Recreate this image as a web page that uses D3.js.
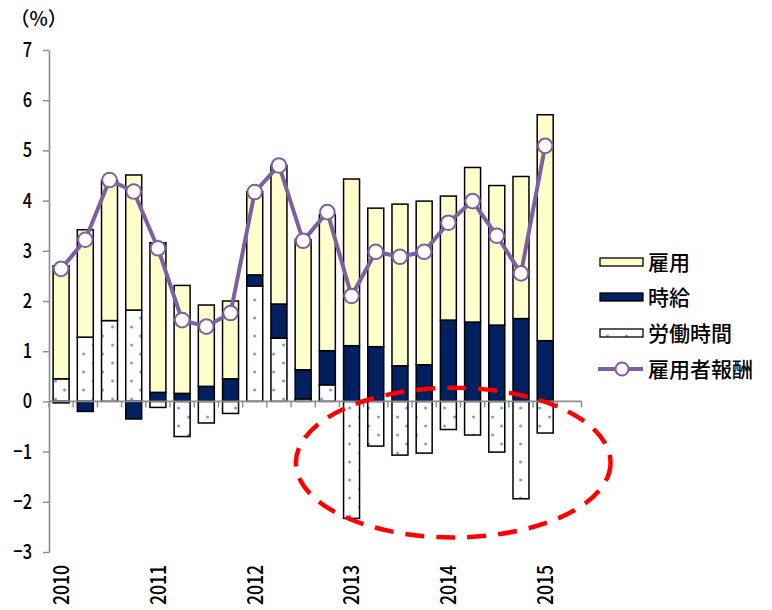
<!DOCTYPE html>
<html lang="ja">
<head>
<meta charset="utf-8">
<script src="https://cdn.jsdelivr.net/npm/d3@7"></script>
<style>
  html, body { margin: 0; padding: 0; background: #fff; }
  svg { display: block; }
  .num { font-family: "Noto Sans CJK JP", "Liberation Sans", sans-serif; font-weight: 500; fill: #000; }
  .jp { font-family: "Noto Sans CJK JP", "Noto Sans CJK SC", sans-serif; font-weight: 500; fill: #000; }
</style>
</head>
<body>
<svg id="chart" width="772" height="610"></svg>
<script>
// Quarters 2010Q1 .. 2015Q2 (the last slot is left empty)
const quarters = [
  "2010Q1","2010Q2","2010Q3","2010Q4",
  "2011Q1","2011Q2","2011Q3","2011Q4",
  "2012Q1","2012Q2","2012Q3","2012Q4",
  "2013Q1","2013Q2","2013Q3","2013Q4",
  "2014Q1","2014Q2","2014Q3","2014Q4",
  "2015Q1","2015Q2"
];
const yearLabels = ["2010","2011","2012","2013","2014","2015"];
const yTicks = [-3,-2,-1,0,1,2,3,4,5,6,7];

// Contributions (percentage points), one value per quarter through 2015Q1
const hoursWorked = [0.45, 1.28, 1.61, 1.82, -0.12, -0.70, -0.43, -0.24, 2.30, 1.26, 0.05, 0.33,
                     -2.33, -0.89, -1.07, -1.03, -0.56, -0.67, -1.01, -1.94, -0.63];
const hourlyWage  = [-0.03, -0.20, 0.00, -0.35, 0.18, 0.16, 0.30, 0.45, 0.22, 0.68, 0.58, 0.68,
                     1.11, 1.09, 0.71, 0.73, 1.62, 1.58, 1.52, 1.65, 1.21];
const employment  = [2.25, 2.14, 2.79, 2.69, 2.98, 2.15, 1.62, 1.55, 1.66, 2.76, 2.59, 2.71,
                     3.32, 2.76, 3.22, 3.26, 2.47, 3.08, 2.78, 2.83, 4.50];
// Compensation of employees, y/y %
const compensation = [2.64, 3.22, 4.41, 4.18, 3.05, 1.62, 1.49, 1.76, 4.17, 4.70, 3.20, 3.77,
                      2.10, 2.98, 2.88, 2.98, 3.56, 3.99, 3.30, 2.55, 5.09];

const seriesNames = { hours: "労働時間", wage: "時給", emp: "雇用", comp: "雇用者報酬" };

const svg = d3.select("#chart");
const plot = { left: 49, right: 581.5, top: 50, bottom: 552 };

const x = d3.scaleBand().domain(quarters)
  .range([plot.left, plot.right]).paddingInner(0.34).paddingOuter(0.17);
const y = d3.scaleLinear().domain([-3, 7]).range([plot.bottom, plot.top]);
const step = x.step();

// dotted fill for working hours
const defs = svg.append("defs");
const pat = defs.append("pattern").attr("id", "dots")
  .attr("patternUnits", "userSpaceOnUse").attr("width", 19).attr("height", 18)
  .attr("x", x(quarters[0]));
pat.append("rect").attr("width", 19).attr("height", 18).attr("fill", "#fff");
pat.append("circle").attr("cx", 2.5).attr("cy", 3).attr("r", 1.5).attr("fill", "#6d9ddc");
pat.append("circle").attr("cx", 11.5).attr("cy", 12).attr("r", 1.5).attr("fill", "#6d9ddc");

const rows = quarters.slice(0, compensation.length).map((q, i) => ({
  q, hours: hoursWorked[i], wage: hourlyWage[i], emp: employment[i], comp: compensation[i]
}));

const keys = ["hours", "wage", "emp"];
const fills = { hours: "url(#dots)", wage: "#002060", emp: "#ffffcc" };
const stacked = d3.stack().keys(keys).offset(d3.stackOffsetDiverging)(rows);

// y axis (narrowed gothic digits)
const yAxis = svg.append("g").attr("transform", `translate(${plot.left},0)`)
  .call(d3.axisLeft(y).tickValues(yTicks).tickSize(6).tickSizeOuter(0)
    .tickFormat(d => d < 0 ? "\u2212" + Math.abs(d) : String(d)));
yAxis.select(".domain").attr("stroke", "#8c8c8c").attr("stroke-width", 1.6);
yAxis.selectAll(".tick line").attr("stroke", "#8c8c8c").attr("stroke-width", 1.4);
yAxis.selectAll(".tick text").attr("class", "num")
  .attr("x", 0).attr("font-size", 20.5).attr("fill", "#000")
  .attr("transform", "translate(-17,0) scale(0.8,1)");

// bars
svg.append("g").selectAll("g").data(stacked).join("g")
  .attr("fill", d => fills[d.key])
  .selectAll("rect").data(d => d).join("rect")
  .attr("x", d => x(d.data.q))
  .attr("width", x.bandwidth())
  .attr("y", d => y(Math.max(d[0], d[1])))
  .attr("height", d => Math.abs(y(d[0]) - y(d[1])))
  .attr("stroke", "#000").attr("stroke-width", 1.5);

// zero line with category ticks
const xAxisG = svg.append("g").attr("transform", `translate(0,${y(0)})`);
xAxisG.append("line").attr("x1", plot.left).attr("x2", plot.right)
  .attr("stroke", "#8c8c8c").attr("stroke-width", 1.8);
xAxisG.selectAll("line.tk").data(d3.range(quarters.length + 1)).join("line")
  .attr("class", "tk")
  .attr("x1", i => plot.left + i * step).attr("x2", i => plot.left + i * step)
  .attr("y1", 0).attr("y2", 6)
  .attr("stroke", "#8c8c8c").attr("stroke-width", 1.4);

// year labels under the first quarter of each year
svg.append("g").selectAll("text").data(yearLabels).join("text")
  .attr("class", "num").attr("font-size", 22)
  .attr("text-anchor", "end").attr("dy", "0.36em")
  .attr("transform", d => `translate(${x(d + "Q1") + x.bandwidth() / 2},565) rotate(-90) scale(0.8,1)`)
  .text(d => d);

// compensation line
const line = d3.line().x(d => x(d.q) + x.bandwidth() / 2).y(d => y(d.comp));
svg.append("path").datum(rows).attr("d", line)
  .attr("fill", "none").attr("stroke", "#7d60a0").attr("stroke-width", 4)
  .attr("stroke-linejoin", "round");
svg.append("g").selectAll("circle").data(rows).join("circle")
  .attr("cx", d => x(d.q) + x.bandwidth() / 2).attr("cy", d => y(d.comp))
  .attr("r", 7.3).attr("fill", "#fff").attr("stroke", "#7d60a0").attr("stroke-width", 2);

// highlight of the negative working-hours contributions
const ellipse = { x0: 10.2, x1: 23.2, yTop: 0.27, yBottom: -2.71 };
svg.append("ellipse")
  .attr("cx", plot.left + step * (ellipse.x0 + ellipse.x1) / 2)
  .attr("cy", (y(ellipse.yTop) + y(ellipse.yBottom)) / 2)
  .attr("rx", step * (ellipse.x1 - ellipse.x0) / 2)
  .attr("ry", (y(ellipse.yBottom) - y(ellipse.yTop)) / 2)
  .attr("fill", "none").attr("stroke", "#ff0000").attr("stroke-width", 4.5)
  .attr("stroke-dasharray", "19 12");

// unit label
svg.append("text").attr("class", "jp").attr("x", 10).attr("y", 26)
  .attr("font-size", 19.5).text("（%）");

// legend
const legend = svg.append("g").attr("transform", "translate(600,0)");
const legItems = [
  { key: "emp", label: seriesNames.emp, cy: 262 },
  { key: "wage", label: seriesNames.wage, cy: 297 },
  { key: "hours", label: seriesNames.hours, cy: 333 },
];
legItems.forEach(it => {
  legend.append("rect").attr("x", 0).attr("y", it.cy - 4).attr("width", 43).attr("height", 8)
    .attr("fill", fills[it.key]).attr("stroke", "#000").attr("stroke-width", 1.3);
  legend.append("text").attr("class", "jp").attr("x", 48).attr("y", it.cy)
    .attr("dy", "0.36em").attr("font-size", 21).text(it.label);
});
const compY = 369;
legend.append("line").attr("x1", -2).attr("x2", 43).attr("y1", compY).attr("y2", compY)
  .attr("stroke", "#7d60a0").attr("stroke-width", 4);
legend.append("circle").attr("cx", 22).attr("cy", compY).attr("r", 6.5)
  .attr("fill", "#fff").attr("stroke", "#7d60a0").attr("stroke-width", 2);
legend.append("text").attr("class", "jp").attr("x", 48).attr("y", compY)
  .attr("dy", "0.36em").attr("font-size", 21).text(seriesNames.comp);
</script>
</body>
</html>
